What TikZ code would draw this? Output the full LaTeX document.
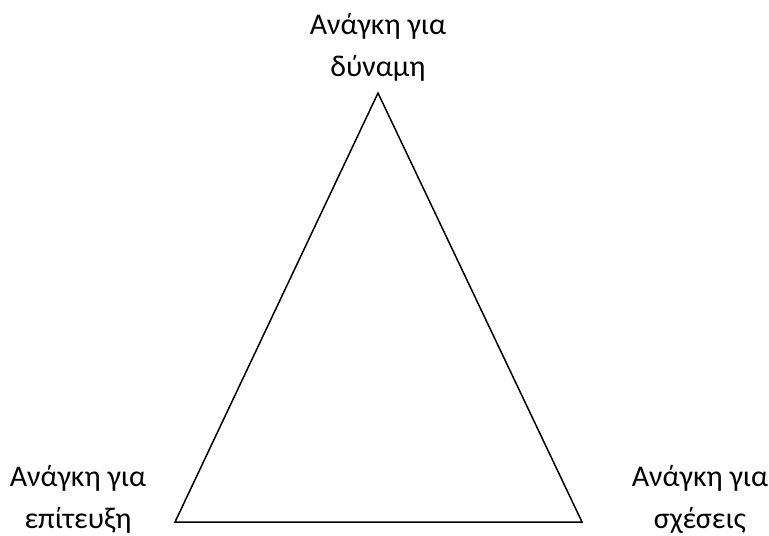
\documentclass[tikz,border=0pt]{standalone}
\usepackage{fontspec}
\setmainfont{Carlito}
\begin{document}
\begin{tikzpicture}[x=0.5pt, y=-0.5pt, thick, need/.style = {align=center, font=\fontsize{15}{21}\selectfont, inner sep=0pt}]
    \useasboundingbox (0,0) rectangle (769,535);
    \coordinate (p) at (378,93);
    \coordinate (a) at (175,522);
    \coordinate (s) at (582,522);
    \node[need] (power) at (378,47) {Ανάγκη για\\δύναμη};
    \node[need] (achieve) at (78,499) {Ανάγκη για\\επίτευξη};
    \node[need] (affil) at (700,499) {Ανάγκη για\\σχέσεις};
    \draw[line width=0.75pt, line join=miter] (p) -- (a) -- (s) -- cycle;
\end{tikzpicture}
\end{document}
